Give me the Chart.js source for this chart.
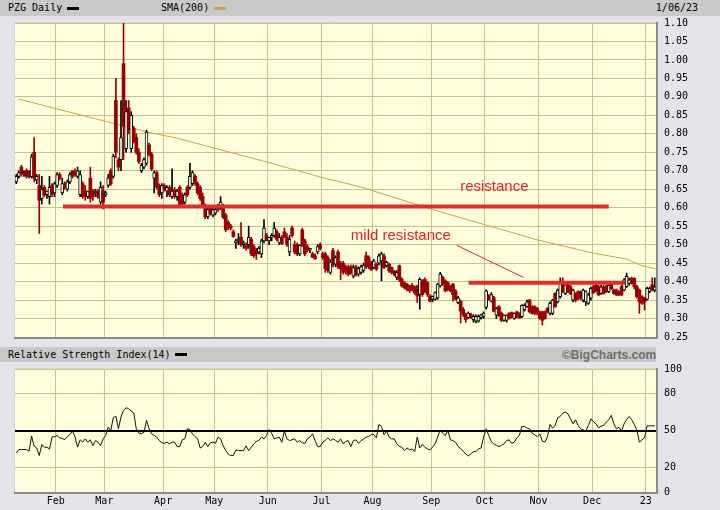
<!DOCTYPE html>
<html>
<head>
<meta charset="utf-8">
<script src="https://cdn.jsdelivr.net/npm/chart.js@4.4.0/dist/chart.umd.min.js"></script>
<style>
  body { margin:0; width:720px; height:510px; background:#e7e3eb; position:relative; overflow:hidden;
         font-family:'DejaVu Sans Mono', monospace; font-size:10px; }
  .band { position:absolute; left:0; background:#c9c9c9; }
  .lbl { position:absolute; white-space:nowrap; color:#000; line-height:12px; }
  .sw { position:absolute; height:3px; width:12px; }
  canvas { position:absolute; left:0; }
</style>
</head>
<body>
<div class="band" style="top:0;height:16px;width:720px"></div>
<div class="lbl" style="left:8px;top:2px">PZG Daily</div>
<div class="sw" style="left:67px;top:7px;background:#000"></div>
<div class="lbl" style="left:161px;top:2px">SMA(200)</div>
<div class="sw" style="left:214px;top:7px;background:#d1a14a"></div>
<div class="lbl" style="right:22px;top:2px">1/06/23</div>
<div class="band" style="top:347px;height:15px;width:656px"></div>
<div class="lbl" style="left:8px;top:349px">Relative Strength Index(14)</div>
<div class="sw" style="left:175px;top:353px;background:#000"></div>
<div class="lbl" style="left:562px;top:348px;font:bold 12px 'Liberation Sans', Arial;color:#6e6e6e">©BigCharts.com</div>
<canvas id="priceChart" width="720" height="346" style="top:0"></canvas>
<canvas id="rsiChart" width="720" height="148" style="top:362px"></canvas>
<script>
// trading days in each month, Jan 7 2022 .. Jan 6 2023
const monthDays = [16, 19, 23, 20, 21, 21, 20, 23, 21, 21, 21, 21, 4];
const monthLabels = ['Feb', 'Mar', 'Apr', 'May', 'Jun', 'Jul', 'Aug', 'Sep', 'Oct', 'Nov', 'Dec', '23'];
const priceTicks = [0.25, 0.30, 0.35, 0.40, 0.45, 0.50, 0.55, 0.60, 0.65, 0.70, 0.75, 0.80, 0.85, 0.90, 0.95, 1.00, 1.05, 1.10];
const rsiTicks = [0, 20, 50, 80, 100];

// daily candles: [open, high, low, close]
const candles = [
  // Jan
  [.67,.69,.665,.685],[.685,.70,.68,.695],[.71,.715,.685,.692],[.69,.70,.685,.695],[.70,.705,.68,.685],[.70,.70,.68,.684],[.684,.745,.68,.738],[.75,.79,.67,.68],[.675,.69,.665,.685],[.66,.69,.53,.62],[.625,.685,.61,.65],[.655,.66,.63,.635],[.635,.645,.625,.645],[.63,.685,.61,.655],[.66,.665,.63,.635],[.64,.67,.63,.665],
  // Feb
  [.66,.695,.655,.69],[.69,.695,.675,.68],[.64,.68,.635,.665],[.665,.67,.65,.655],[.65,.675,.645,.67],[.67,.695,.665,.69],[.70,.70,.68,.685],[.695,.705,.685,.69],[.685,.71,.68,.70],[.635,.70,.63,.69],[.665,.67,.625,.63],[.645,.66,.62,.63],[.63,.645,.625,.645],[.68,.71,.615,.625],[.645,.65,.62,.63],[.64,.65,.63,.645],[.645,.65,.625,.63],[.615,.67,.61,.655],[.645,.66,.597,.615],
  // Mar
  [.635,.645,.63,.64],[.66,.69,.655,.68],[.70,.705,.66,.665],[.685,.745,.68,.74],[.89,.95,.735,.75],[.73,.735,.70,.71],[.73,.89,.70,.79],[.99,1.10,.73,.82],[.76,.89,.75,.86],[.87,.89,.80,.81],[.76,.86,.75,.85],[.815,.82,.775,.78],[.79,.80,.745,.75],[.75,.76,.72,.725],[.70,.72,.695,.715],[.71,.735,.705,.73],[.72,.81,.715,.805],[.77,.775,.74,.745],[.745,.75,.70,.705],[.68,.70,.64,.695],[.695,.70,.65,.655],[.66,.665,.63,.635],[.64,.665,.625,.66],
  // Apr
  [.66,.665,.645,.65],[.645,.66,.63,.655],[.655,.66,.63,.635],[.63,.705,.625,.645],[.648,.655,.625,.63],[.63,.65,.62,.645],[.655,.66,.60,.605],[.635,.64,.605,.61],[.615,.64,.61,.635],[.655,.66,.63,.635],[.655,.72,.65,.685],[.665,.70,.66,.695],[.685,.69,.66,.665],[.665,.67,.635,.64],[.655,.66,.62,.625],[.63,.64,.60,.605],[.60,.61,.57,.575],[.575,.60,.57,.595],[.60,.605,.58,.585],[.58,.60,.575,.595],
  // May
  [.585,.60,.58,.595],[.605,.61,.59,.595],[.60,.63,.595,.615],[.605,.61,.57,.575],[.58,.585,.535,.54],[.56,.565,.54,.545],[.55,.555,.54,.545],[.535,.54,.52,.522],[.505,.515,.49,.51],[.51,.53,.50,.515],[.52,.56,.495,.50],[.50,.51,.49,.505],[.50,.505,.485,.49],[.50,.55,.49,.52],[.515,.52,.47,.475],[.495,.50,.465,.47],[.485,.49,.46,.475],[.48,.495,.475,.49],[.475,.515,.465,.51],[.51,.568,.505,.545],[.525,.53,.51,.512],
  // Jun
  [.51,.52,.50,.52],[.52,.53,.51,.525],[.525,.56,.52,.545],[.535,.54,.51,.515],[.505,.53,.50,.52],[.52,.525,.50,.503],[.535,.545,.52,.52],[.52,.53,.495,.50],[.48,.525,.47,.515],[.545,.55,.52,.525],[.50,.51,.475,.48],[.50,.505,.47,.475],[.475,.50,.47,.498],[.54,.545,.495,.50],[.51,.515,.47,.475],[.494,.50,.48,.485],[.485,.49,.478,.49],[.475,.48,.465,.466],[.47,.475,.46,.462],[.48,.50,.475,.495],[.50,.505,.485,.49],
  // Jul
  [.475,.48,.46,.465],[.475,.48,.425,.435],[.465,.47,.425,.43],[.425,.46,.42,.453],[.484,.49,.44,.445],[.447,.47,.44,.465],[.48,.485,.435,.44],[.45,.455,.405,.435],[.45,.455,.42,.425],[.44,.445,.42,.43],[.44,.445,.415,.42],[.44,.445,.42,.425],[.415,.445,.41,.438],[.44,.445,.415,.42],[.42,.44,.415,.435],[.425,.445,.42,.44],[.43,.45,.425,.445],[.47,.48,.435,.44],[.465,.47,.435,.44],[.45,.455,.43,.432],
  // Aug
  [.438,.46,.435,.456],[.447,.45,.43,.434],[.45,.475,.445,.47],[.456,.48,.402,.475],[.47,.475,.435,.438],[.443,.455,.44,.452],[.447,.45,.425,.429],[.438,.44,.42,.425],[.429,.43,.415,.42],[.411,.43,.405,.425],[.443,.445,.40,.406],[.406,.41,.385,.388],[.397,.40,.38,.384],[.393,.395,.375,.379],[.388,.39,.37,.375],[.39,.395,.375,.38],[.384,.388,.365,.37],[.388,.39,.343,.361],[.365,.41,.325,.406],[.402,.405,.36,.365],[.406,.41,.37,.375],[.397,.40,.36,.365],[.361,.365,.345,.347],
  // Sep
  [.352,.361,.345,.36],[.352,.372,.35,.37],[.356,.395,.352,.393],[.388,.425,.385,.42],[.411,.415,.39,.393],[.402,.405,.372,.375],[.397,.40,.375,.379],[.388,.39,.372,.375],[.393,.395,.347,.365],[.375,.378,.35,.352],[.343,.36,.34,.356],[.347,.35,.288,.32],[.325,.33,.305,.311],[.311,.315,.29,.297],[.302,.318,.30,.315],[.311,.315,.30,.302],[.297,.31,.29,.306],[.293,.31,.288,.306],[.293,.31,.29,.306],[.302,.312,.298,.31],[.306,.318,.30,.315],
  // Oct
  [.33,.378,.325,.375],[.361,.365,.35,.352],[.347,.37,.345,.365],[.356,.36,.318,.32],[.309,.33,.30,.327],[.332,.335,.305,.308],[.314,.318,.291,.295],[.295,.31,.293,.309],[.295,.31,.29,.309],[.314,.316,.298,.30],[.316,.318,.302,.305],[.30,.315,.298,.314],[.318,.32,.302,.305],[.314,.316,.30,.302],[.305,.338,.302,.336],[.323,.34,.32,.336],[.332,.35,.33,.345],[.35,.352,.315,.318],[.332,.335,.312,.314],[.332,.335,.31,.314],[.327,.33,.31,.314],
  // Nov
  [.318,.32,.298,.30],[.318,.32,.282,.295],[.318,.32,.298,.30],[.327,.33,.315,.318],[.314,.345,.31,.341],[.314,.352,.31,.35],[.368,.37,.33,.332],[.345,.38,.342,.377],[.359,.41,.355,.395],[.40,.41,.37,.373],[.368,.395,.365,.391],[.391,.395,.37,.373],[.386,.39,.365,.368],[.35,.38,.345,.377],[.368,.37,.345,.35],[.373,.375,.35,.355],[.372,.375,.35,.355],[.35,.38,.345,.377],[.345,.375,.335,.373],[.341,.368,.338,.364],[.355,.385,.35,.382],
  // Dec
  [.386,.39,.368,.37],[.39,.392,.372,.375],[.386,.39,.362,.364],[.368,.39,.365,.386],[.386,.39,.366,.368],[.386,.39,.37,.373],[.373,.392,.37,.39],[.395,.40,.378,.38],[.377,.38,.366,.368],[.377,.38,.362,.364],[.373,.375,.362,.364],[.386,.39,.362,.364],[.377,.408,.375,.405],[.386,.423,.384,.414],[.395,.41,.39,.405],[.409,.412,.393,.395],[.409,.41,.38,.386],[.386,.39,.356,.359],[.377,.38,.314,.345],[.359,.362,.338,.341],[.355,.358,.323,.345],
  // Jan 23
  [.352,.385,.35,.382],[.373,.385,.37,.382],[.391,.41,.375,.377],[.377,.41,.372,.386]
];

// 200-day SMA, read at a few days
const smaDays = [1, 32, 52, 63, 98, 119, 135, 162, 204, 226, 239, 245, 250];
const smaValues = [0.894, 0.839, 0.804, 0.788, 0.724, 0.683, 0.656, 0.597, 0.513, 0.477, 0.461, 0.443, 0.435];

// drawn annotations (day index, price)
const resistanceMain = [[18.3, 0.603], [232.0, 0.603]];
const resistanceMild = [[177.1, 0.397], [238.4, 0.397]];
const mildPointer = [[172.5, 0.498], [198.7, 0.411]];
const notes = [['resistance', 187.2, 0.656], ['mild resistance', 150.6, 0.523]];

// RSI(14), one value per day
const rsi = [
  31.7,34.5,34.5,34.5,34.5,33.1,45.4,37.2,35.8,29.6,
  38.6,36.4,36.4,35,44.6,45,45.9,44,43.5,42.6,
  45,46.7,49.5,45,36.5,42.4,40.5,43.2,40.5,42.4,
  37.7,41.8,40.5,37.7,43.2,45.9,52.7,50,60.4,61.7,
  51.4,60.9,66.3,68.5,67.7,65.8,64.2,51.4,47.8,47.3,
  48.6,58.2,51.4,47.3,46,44.6,41.8,40,39.6,40.5,
  39.1,40.5,40.5,36.9,36.9,42.5,43.2,51.4,50.8,47.3,
  45,43.2,35.8,36.9,40.5,36.9,40,40.5,39.6,44.6,
  43.2,37.7,33.7,30.9,29.6,29.6,34.2,33.7,33.7,33.7,
  37.5,33.7,36.4,39.1,41,42,44.6,43.2,46,50.8,
  47.8,43.2,44,44.6,40.5,49.5,43.2,41.8,42.5,43.2,
  40.5,41.8,40,39.6,43.2,44.6,47.3,41.8,36.9,36.9,
  40.5,42,44,41.8,43.2,42,40.5,43.2,39.1,41,
  41.8,36.9,41.8,42.4,39.6,41.8,43,44.6,45.1,46.7,
  46.7,44,54.9,53.3,46.5,49.5,44.6,43.2,43.2,39.1,
  37,36.4,33.7,35.8,34.2,35,32.8,44.6,35.8,38.6,
  36.4,35,34.2,36.4,39.1,44.6,50.5,47.8,45.9,50,
  42.4,41.8,40.5,37.2,35,33.1,30.9,29.3,31,32.8,
  33,35,35.8,44.6,51.4,46,41,39.1,38,36.9,
  38,39.1,41.8,42.4,39.6,40.5,44,46,53.3,53.3,
  52,51.4,47.8,46.5,45,47.3,41.3,40.5,45,55,
  52,54,60.4,61.4,64,65,63.6,59.5,55.4,58.7,
  54.1,51.4,50.5,49.5,54,59.5,57.2,55.4,52.2,53.5,
  54.1,56.8,58.7,62.3,55.4,51.4,52.7,49.5,55.4,59,
  61.4,58.7,55,50.5,40.5,42.4,44,53.8,53.8,53.8,53.8
];

const plotBg = '#ffffdd';
const gridColor = '#c9c28e';
const downColor = '#990000';
const upColor = '#000000';
const noteRed = '#e8202a';
const tickFont = { family: 'DejaVu Sans Mono', size: 10 };

const lastDay = candles.length - 1;
const monthStarts = [];
let acc = 0;
for (let m = 0; m < monthDays.length - 1; m++) {
    acc += monthDays[m];
    monthStarts.push(acc - 0.5);
}

const isUp = i => candles[i][3] >= candles[i][0];
const toPoints = pairs => pairs.map(p => ({ x: p[0], y: p[1] }));

const panelPlugin = {
    id: 'panel',
    beforeDraw(chart) {
        const { ctx, chartArea: a } = chart;
        ctx.save();
        ctx.fillStyle = plotBg;
        ctx.fillRect(a.left, a.top, a.right - a.left, a.bottom - a.top);
        ctx.restore();
    },
    afterDraw(chart) {
        const { ctx, chartArea: a } = chart;
        ctx.save();
        ctx.strokeStyle = '#d6d6d6';
        ctx.lineWidth = 1;
        ctx.beginPath();
        ctx.moveTo(a.left - 0.5, a.bottom);
        ctx.lineTo(a.left - 0.5, a.top - 0.5);
        ctx.lineTo(a.right, a.top - 0.5);
        ctx.stroke();
        ctx.strokeStyle = '#8a8a8a';
        ctx.lineWidth = 2;
        ctx.beginPath();
        ctx.moveTo(a.left - 1, a.bottom + 1);
        ctx.lineTo(a.right + 1, a.bottom + 1);
        ctx.lineTo(a.right + 1, a.top - 1);
        ctx.stroke();
        ctx.restore();
    }
};

const notesPlugin = {
    id: 'notes',
    afterDatasetsDraw(chart) {
        const { ctx, scales } = chart;
        ctx.save();
        ctx.fillStyle = noteRed;
        ctx.font = '15px "Liberation Sans", Arial, sans-serif';
        ctx.textAlign = 'center';
        ctx.textBaseline = 'middle';
        notes.forEach(([text, day, price]) => {
            ctx.fillText(text, scales.x.getPixelForValue(day), scales.y.getPixelForValue(price));
        });
        ctx.restore();
    }
};

const xScale = (showLabels) => ({
    type: 'linear',
    min: -0.5,
    max: lastDay + 0.5,
    offset: false,
    grid: { color: gridColor, drawTicks: false, offset: false },
    border: { display: false },
    afterBuildTicks: s => { s.ticks = monthStarts.map(v => ({ value: v })); },
    afterFit: s => { s.height = showLabels ? 18 : 0; },
    ticks: {
        display: showLabels,
        autoSkip: false,
        maxRotation: 0,
        padding: 3,
        color: '#000',
        font: tickFont,
        callback: (v, idx) => monthLabels[idx]
    }
});

// right value axis; the gap before labels comes from an invisible tick mark
const valueGrid = (color, width) => ({
    color: color,
    lineWidth: width,
    drawTicks: true,
    tickLength: 8,
    tickColor: 'rgba(0,0,0,0)'
});

new Chart(document.getElementById('priceChart'), {
    type: 'bar',
    data: {
        datasets: [
            {
                type: 'line', data: toPoints(resistanceMain), borderColor: '#e52a2a',
                borderWidth: 4, pointRadius: 0, order: -2
            },
            {
                type: 'line', data: toPoints(resistanceMild), borderColor: '#e52a2a',
                borderWidth: 4, pointRadius: 0, order: -2
            },
            {
                type: 'line', data: toPoints(mildPointer), borderColor: noteRed,
                borderWidth: 1, pointRadius: 0, order: -2
            },
            {
                // candle bodies
                data: candles.map((c, i) => ({ x: i, y: [c[0], c[3]] })),
                grouped: false,
                barThickness: 3,
                minBarLength: 1,
                borderSkipped: false,
                backgroundColor: ctx => isUp(ctx.dataIndex) ? plotBg : downColor,
                borderColor: ctx => isUp(ctx.dataIndex) ? upColor : downColor,
                borderWidth: ctx => isUp(ctx.dataIndex) ? 1 : 0,
                order: 0
            },
            {
                // wicks
                data: candles.map((c, i) => ({ x: i, y: [c[2], c[1]] })),
                grouped: false,
                barThickness: 1,
                backgroundColor: ctx => isUp(ctx.dataIndex) ? upColor : downColor,
                borderWidth: 0,
                order: 1
            },
            {
                type: 'line',
                data: smaDays.map((d, i) => ({ x: d, y: smaValues[i] })),
                borderColor: '#d1a14a', borderWidth: 1, pointRadius: 0, order: 2
            }
        ]
    },
    options: {
        responsive: false,
        animation: false,
        layout: { padding: { left: 15, top: 23, bottom: 9, right: 0 } },
        plugins: { legend: { display: false }, tooltip: { enabled: false } },
        scales: {
            x: xScale(false),
            y: {
                position: 'right',
                min: 0.25,
                max: 1.10,
                beginAtZero: false,
                grid: valueGrid(gridColor, 1),
                border: { display: false },
                afterBuildTicks: s => { s.ticks = priceTicks.map(v => ({ value: v })); },
                afterFit: s => { s.width = 64; },
                ticks: {
                    autoSkip: false,
                    padding: 0,
                    color: '#000',
                    font: tickFont,
                    callback: v => v.toFixed(2)
                }
            }
        }
    },
    plugins: [panelPlugin, notesPlugin]
});

new Chart(document.getElementById('rsiChart'), {
    type: 'line',
    data: {
        datasets: [{
            data: rsi.map((v, i) => ({ x: i, y: v })),
            borderColor: '#111',
            borderWidth: 1,
            pointRadius: 0
        }]
    },
    options: {
        responsive: false,
        animation: false,
        layout: { padding: { left: 15, top: 7, bottom: 0, right: 0 } },
        plugins: { legend: { display: false }, tooltip: { enabled: false } },
        scales: {
            x: xScale(true),
            y: {
                position: 'right',
                min: 0,
                max: 100,
                grid: valueGrid(
                    c => c.tick.value === 50 ? '#000' : gridColor,
                    c => c.tick.value === 50 ? 2 : 1
                ),
                border: { display: false },
                afterBuildTicks: s => { s.ticks = rsiTicks.map(v => ({ value: v })); },
                afterFit: s => { s.width = 64; },
                ticks: { autoSkip: false, padding: 0, color: '#000', font: tickFont }
            }
        }
    },
    plugins: [panelPlugin]
});
</script>
</body>
</html>
